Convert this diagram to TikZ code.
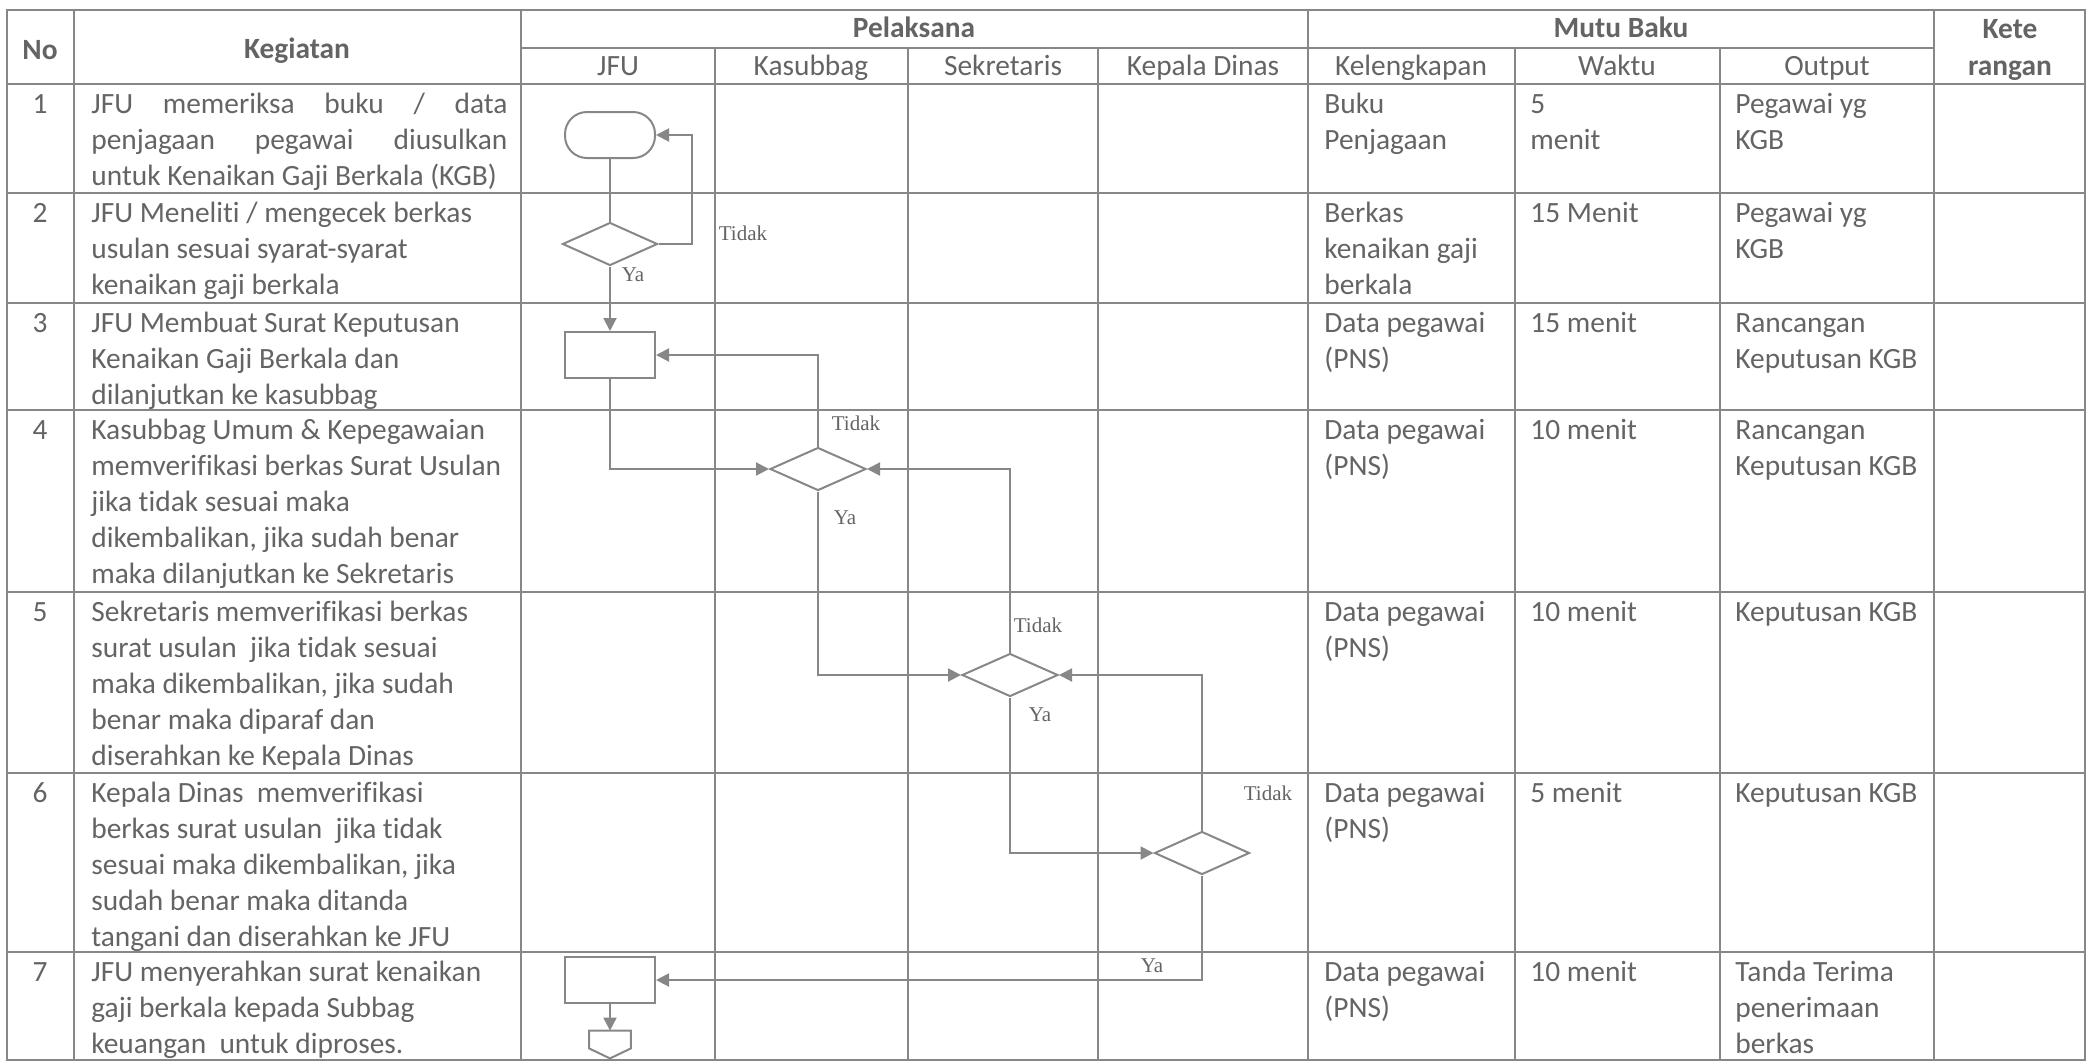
\documentclass[tikz,border=0pt]{standalone}
\usepackage{fontspec}
\setmainfont{Carlito}[Ligatures=CommonOff]
\newfontfamily\labelfont{Liberation Serif}
\usetikzlibrary{shapes.geometric, arrows.meta}
\definecolor{tinta}{RGB}{100,100,100}
\definecolor{garis}{RGB}{135,135,135}
\newcommand{\baris}[1]{\begin{tabular}[t]{@{}l@{}}#1\end{tabular}}

\begin{document}
\begin{tikzpicture}[x=0.5pt, y=-0.5pt,
  every node/.style={text=tinta},
  isi/.style={anchor=base west, inner sep=0pt, font=\fontsize{14.7}{18}\selectfont},
  judul/.style={anchor=base, inner sep=0pt, font=\fontsize{14.7}{18}\selectfont\bfseries},
  subjudul/.style={anchor=base, inner sep=0pt, font=\fontsize{14.7}{18}\selectfont},
  tabel/.style={draw=garis, line width=0.6pt},
  alur/.style={draw=garis, line width=1pt},
  panah/.style={alur, -{Triangle[length=6.5pt, width=6.5pt]}},
  proses/.style={alur, rectangle, minimum width=45pt, minimum height=23pt, inner sep=0pt},
  mulai/.style={proses, rounded corners=11pt},
  pilih/.style={alur, diamond, minimum width=47.5pt, minimum height=21.5pt, inner sep=0pt},
  ket/.style={inner sep=0pt, font=\labelfont\fontsize{10.5}{12}\selectfont}]
  \useasboundingbox (0,0) rectangle (2089,1062);

  % garis tabel
  \draw[tabel] (7,10) rectangle (2085,1060);
  \foreach \x in {74,521,1308,1934} \draw[tabel] (\x,10) -- (\x,1060);
  \foreach \x in {715,908,1098,1515,1720} \draw[tabel] (\x,48) -- (\x,1060);
  \draw[tabel] (521,48) -- (1934,48);
  \foreach \y in {84,193,303,410,592,773,952} \draw[tabel] (7,\y) -- (2085,\y);

  % kepala tabel
  \node[judul] (hno) at (40,59) {No};
  \node[judul] (hkeg) at (297,58) {Kegiatan};
  \node[judul] (hpel) at (914,37) {Pelaksana};
  \node[judul] (hmutu) at (1621,37) {Mutu Baku};
  \node[judul] (hket1) at (2010,38) {Kete};
  \node[judul] (hket2) at (2010,75) {rangan};
  \foreach \x/\t [count=\i] in {618/JFU, 811/Kasubbag, 1003/Sekretaris, 1203/Kepala Dinas,
      1411/Kelengkapan, 1617/Waktu, 1827/Output}
    \node[subjudul] (h\i) at (\x,75) {\t};

  % nomor
  \foreach \y [count=\i] in {113,222,332,439,621,802,981}
    \node[subjudul] (n\i) at (40,\y) {\i};

  % kegiatan
  \node[isi] (k1) at (91,113) {\parbox[t]{208pt}{JFU memeriksa buku / data\linebreak
    penjagaan pegawai diusulkan\linebreak untuk Kenaikan Gaji Berkala (KGB)}};
  \node[isi] (k2) at (91,222) {\baris{JFU Meneliti / mengecek berkas\\ usulan sesuai syarat-syarat\\
    kenaikan gaji berkala}};
  \node[isi] (k3) at (91,332) {\baris{JFU Membuat Surat Keputusan\\ Kenaikan Gaji Berkala dan\\
    dilanjutkan ke kasubbag}};
  \node[isi] (k4) at (91,439) {\baris{Kasubbag Umum \& Kepegawaian\\ memverifikasi berkas Surat Usulan\\
    jika tidak sesuai maka\\ dikembalikan, jika sudah benar\\ maka dilanjutkan ke Sekretaris}};
  \node[isi] (k5) at (91,621) {\baris{Sekretaris memverifikasi berkas\\ surat usulan\ \ jika tidak sesuai\\
    maka dikembalikan, jika sudah\\ benar maka diparaf dan\\ diserahkan ke Kepala Dinas}};
  \node[isi] (k6) at (91,802) {\baris{Kepala Dinas\ \ memverifikasi\\ berkas surat usulan\ \ jika tidak\\
    sesuai maka dikembalikan, jika\\ sudah benar maka ditanda\\ tangani dan diserahkan ke JFU}};
  \node[isi] (k7) at (91,981) {\baris{JFU menyerahkan surat kenaikan\\ gaji berkala kepada Subbag\\
    keuangan\ \ untuk diproses.}};

  % mutu baku
  \node[isi] (l1) at (1324,113) {\baris{Buku\\ Penjagaan}};
  \node[isi] (l2) at (1324,222) {\baris{Berkas\\ kenaikan gaji\\ berkala}};
  \foreach \y [count=\i from 3] in {332,439,621,802,981}
    \node[isi] (l\i) at (1324,\y) {\baris{Data pegawai\\ (PNS)}};
  \node[isi] (w1) at (1530,113) {\baris{5\\ menit}};
  \node[isi] (w2) at (1530,222) {15 Menit};
  \node[isi] (w3) at (1530,332) {15 menit};
  \node[isi] (w4) at (1530,439) {10 menit};
  \node[isi] (w5) at (1530,621) {10 menit};
  \node[isi] (w6) at (1530,802) {5 menit};
  \node[isi] (w7) at (1530,981) {10 menit};
  \node[isi] (o1) at (1735,113) {\baris{Pegawai yg\\ KGB}};
  \node[isi] (o2) at (1735,222) {\baris{Pegawai yg\\ KGB}};
  \node[isi] (o3) at (1735,332) {\baris{Rancangan\\ Keputusan KGB}};
  \node[isi] (o4) at (1735,439) {\baris{Rancangan\\ Keputusan KGB}};
  \node[isi] (o5) at (1735,621) {Keputusan KGB};
  \node[isi] (o6) at (1735,802) {Keputusan KGB};
  \node[isi] (o7) at (1735,981) {\baris{Tanda Terima\\ penerimaan\\ berkas}};

  % bagan alir
  \node[mulai] (start) at (610,135) {};
  \node[pilih] (d1) at (610,244) {};
  \node[proses] (r1) at (610,355) {};
  \node[pilih, minimum width=48pt] (d2) at (818,469) {};
  \node[pilih, minimum width=48pt] (d3) at (1010,675) {};
  \node[pilih] (d4) at (1202,853) {};
  \node[proses] (r2) at (610,980) {};
  \node[inner sep=0pt, minimum width=20.5pt, minimum height=13.5pt] (off) at (610,1044.5) {};
  \draw[alur] (off.north west) -- (off.north east) -- ([yshift=5pt]off.south east)
    -- (off.south) -- ([yshift=5pt]off.south west) -- cycle;

  \draw[alur] (start) -- (d1);
  \draw[panah] (d1.east) -- ++(33,0) |- (start.east);
  \draw[panah] (d1) -- (r1);
  \draw[panah] (r1.south) |- (d2.west);
  \draw[panah] (d2.north) |- (r1.east);
  \draw[panah] (d2.south) |- (d3.west);
  \draw[panah] (d3.north) |- (d2.east);
  \draw[panah] (d3.south) |- (d4.west);
  \draw[panah] (d4.north) |- (d3.east);
  \draw[panah] (d4.south) |- (r2.east);
  \draw[panah] (r2) -- (off);

  \node[ket] (t1) at (743,233) {Tidak};
  \node[ket] (y1) at (633,275) {Ya};
  \node[ket] (t2) at (856,423) {Tidak};
  \node[ket] (y2) at (845,518) {Ya};
  \node[ket] (t3) at (1038,625) {Tidak};
  \node[ket] (y3) at (1040,715) {Ya};
  \node[ket] (t4) at (1268,793) {Tidak};
  \node[ket] (y4) at (1152,966) {Ya};
\end{tikzpicture}
\end{document}
